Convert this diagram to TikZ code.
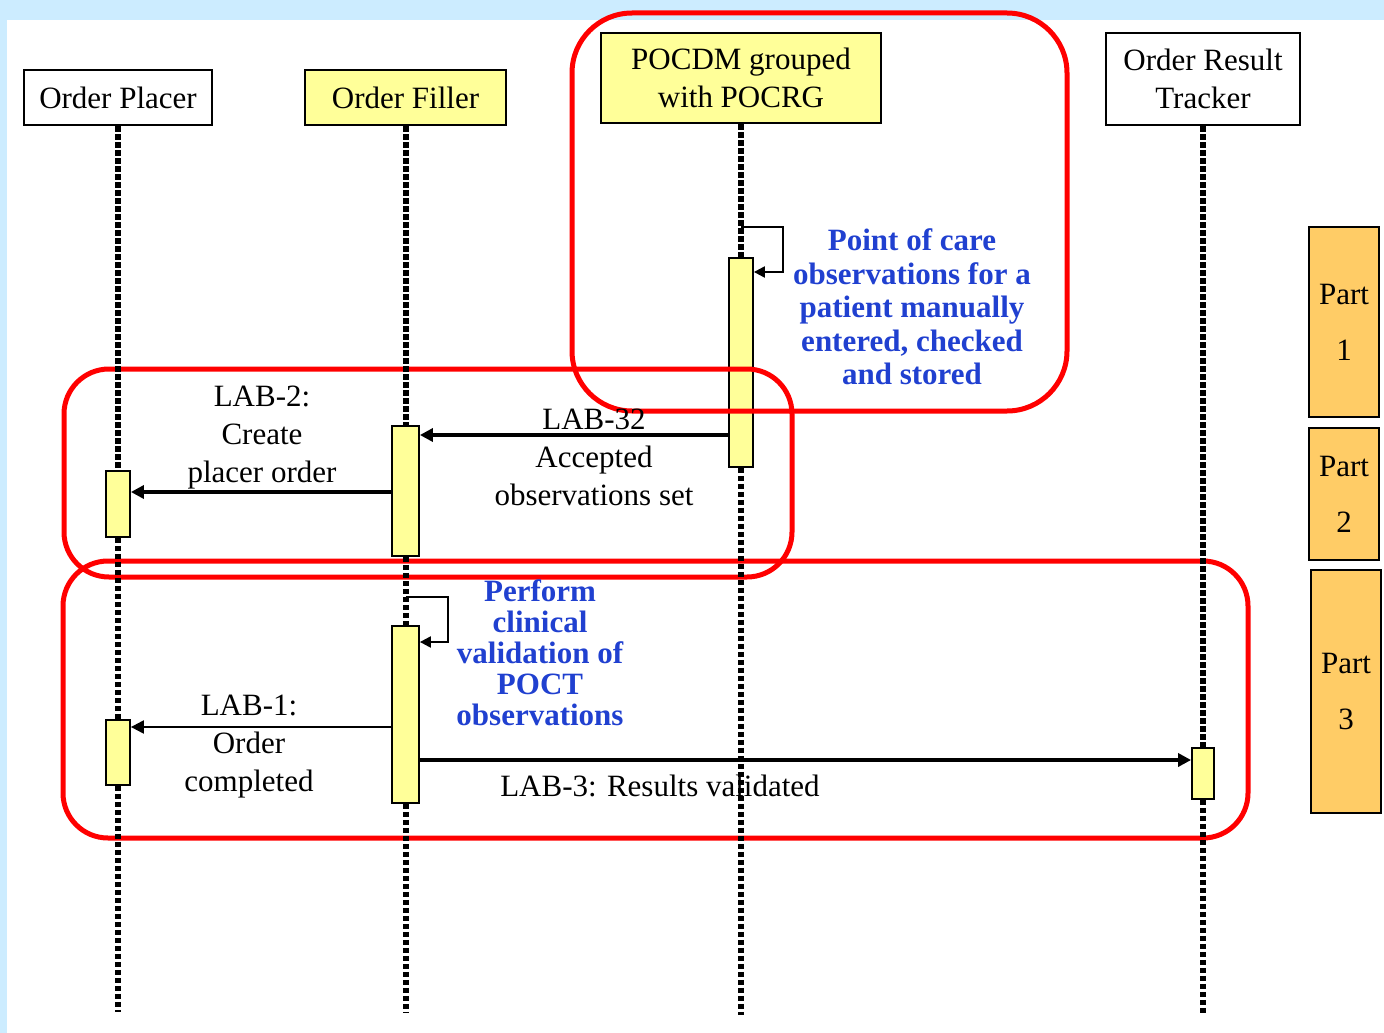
\documentclass[tikz,border=0pt]{standalone}
\usepackage{fontspec}
\setmainfont{Liberation Serif}
\usetikzlibrary{arrows.meta}
\definecolor{frameblue}{RGB}{204,236,255}
\definecolor{barfill}{RGB}{255,255,153}
\definecolor{partfill}{RGB}{255,204,102}
\definecolor{noteblue}{RGB}{32,64,208}
\definecolor{groupred}{RGB}{255,0,0}

\begin{document}
\begin{tikzpicture}[x=1pt,y=-1pt,
  every node/.style={font=\fontsize{31}{38}\selectfont, inner sep=0pt},
  actor/.style={draw=black, line width=2pt, align=center},
  actbar/.style={draw=black, line width=1.8pt, fill=barfill},
  lifeline/.style={line width=6pt, dash pattern=on 5.5pt off 2.5pt},
  msg/.style={line width=3.5pt, -{Triangle[length=13pt,width=13pt]}},
  thinmsg/.style={line width=2.2pt, -{Triangle[length=13pt,width=13pt]}},
  selfmsg/.style={line width=2.2pt, -{Triangle[length=11pt,width=11pt]}},
  grp/.style={draw=groupred, line width=5pt},
  note/.style={text=noteblue, align=center, font=\bfseries\fontsize{31}{33.5}\selectfont},
  lbl/.style={align=center},
  partbox/.style={draw=black, line width=2pt, fill=partfill, align=center,
    minimum width=70pt, font=\fontsize{31}{56}\selectfont}
]
% page background with light blue frame
\fill[frameblue] (0,0) rectangle (1384,1033);
\fill[white] (7,20) rectangle (1384,1033);
\useasboundingbox (0,0) rectangle (1384,1033);

% participants
\node[actor, fill=white, minimum width=188pt, minimum height=55pt] (placer) at (118,97.5) {Order Placer};
\node[actor, fill=barfill, minimum width=201pt, minimum height=55pt] (filler) at (405.5,97.5) {Order Filler};
\node[actor, fill=barfill, minimum width=280pt, minimum height=90pt] (pocdm) at (741,78) {POCDM grouped\\with POCRG};
\node[actor, fill=white, minimum width=194pt, minimum height=92pt] (tracker) at (1203,79) {Order Result\\Tracker};

% activation bars
\node[actbar, minimum width=24pt, minimum height=209pt] (pbar) at (741,362.5) {};
\node[actbar, minimum width=27pt, minimum height=130pt] (fbarA) at (405.5,491) {};
\node[actbar, minimum width=24pt, minimum height=66pt] (obarA) at (118,504) {};
\node[actbar, minimum width=27pt, minimum height=177pt] (fbarB) at (405.5,714.5) {};
\node[actbar, minimum width=24pt, minimum height=65pt] (obarB) at (118,752.5) {};
\node[actbar, minimum width=22pt, minimum height=51pt] (tbar) at (1203,773.5) {};

% grouping frames
\draw[grp, rounded corners=60pt] (572,13) rectangle (1067,411);
\draw[grp, rounded corners=45pt] (64,369) rectangle (792,577);
\draw[grp, rounded corners=45pt] (63,561) rectangle (1248,838);

% lifeline ends
\coordinate (placerEnd) at (118,1012);
\coordinate (fillerEnd) at (405.5,1012);
\coordinate (pocdmEnd) at (741,1015);
\coordinate (trackerEnd) at (1203,1015);

% lifelines
\draw[lifeline] (placer.south) -- (obarA.north);
\draw[lifeline] (obarA.south) -- (obarB.north);
\draw[lifeline] (obarB.south) -- (placerEnd);
\draw[lifeline] (filler.south) -- (fbarA.north);
\draw[lifeline] (fbarA.south) -- (fbarB.north);
\draw[lifeline] (fbarB.south) -- (fillerEnd);
\draw[lifeline] (pocdm.south) -- (pbar.north);
\draw[lifeline] (pbar.south) -- (pocdmEnd);
\draw[lifeline] (tracker.south) -- (tbar.north);
\draw[lifeline] (tbar.south) -- (trackerEnd);

% self messages
\coordinate (loopA) at (741,227);
\coordinate (loopAc) at (783,272);
\draw[selfmsg] (loopA) -| (loopAc) -- (loopAc -| pbar.east);
\coordinate (loopB) at (405.5,597);
\coordinate (loopBc) at (448,642);
\draw[selfmsg] (loopB) -| (loopBc) -- (loopBc -| fbarB.east);

% messages
\draw[msg] (pbar.west |- 0,435) -- (fbarA.east |- 0,435);
\draw[msg] (fbarA.west |- 0,492) -- (obarA.east |- 0,492);
\draw[thinmsg] (fbarB.west |- 0,727) -- (obarB.east |- 0,727);
\draw[msg] (fbarB.east |- 0,760) -- (tbar.west |- 0,760);

% message labels
\node[lbl] (lab32) at (594,457) {LAB-32\\Accepted\\observations set};
\node[lbl] (lab2) at (262,438) {LAB-2:\\Create\\placer order};
\node[lbl] (lab1) at (249,747) {LAB-1:\\Order\\completed};
\node[lbl] (lab3) at (660,786) {LAB-3: Results validated};

% notes
\node[note] (noteA) at (912,307) {Point of care\\observations for a\\patient manually\\entered, checked\\and stored};
\node[note, font=\bfseries\fontsize{31}{31}\selectfont] (noteB) at (540,653) {Perform\\clinical\\validation of\\POCT\\observations};

% part markers
\node[partbox, minimum height=190pt] (part1) at (1344,322) {Part\\1};
\node[partbox, minimum height=132pt] (part2) at (1344,494) {Part\\2};
\node[partbox, minimum height=243pt] (part3) at (1346,691.5) {Part\\3};
\end{tikzpicture}
\end{document}
